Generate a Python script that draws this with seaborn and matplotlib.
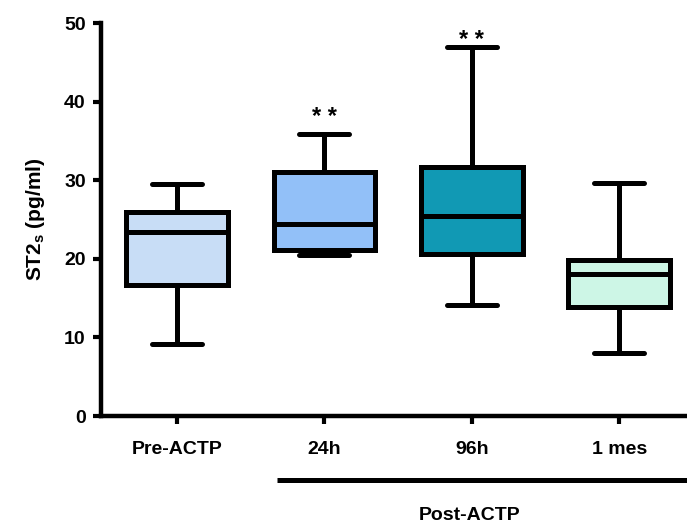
import matplotlib
matplotlib.use("Agg")
import pandas as pd
import matplotlib.pyplot as plt
import seaborn as sns

# values (five-number summaries per group)
groups = ["Pre-ACTP", "24h", "96h", "1 mes"]
lows = [9.2, 20.5, 14.1, 8.0]
q1s = [16.7, 21.1, 20.6, 13.9]
medians = [23.4, 24.4, 25.5, 18.1]
q3s = [26.0, 31.1, 31.7, 19.8]
highs = [29.5, 35.9, 46.9, 29.7]
colors = ["#C8DDF6", "#92C0F8", "#1199B4", "#CDF6E6"]
stars = ["", "* *", "* *", ""]
star_lift = [0, 12, 5, 0]


def build_frame():
	'''Five points per group give exactly these quartiles with whis=(0, 100).'''
	rows = []
	for g, a, b, c, d, e in zip(groups, lows, q1s, medians, q3s, highs):
		for v in (a, b, c, d, e):
			rows.append({"grupo": g, "ST2": v})
	return pd.DataFrame(rows)


def main():
	sns.set_style("ticks", {"axes.edgecolor": "black", "text.color": "black",
		"xtick.color": "black", "ytick.color": "black", "axes.labelcolor": "black"})
	plt.rcParams["font.family"] = ["Liberation Sans", "DejaVu Sans"]
	plt.rcParams["font.weight"] = "bold"
	plt.rcParams["mathtext.fontset"] = "custom"
	plt.rcParams["mathtext.rm"] = "Liberation Sans:bold"
	plt.rcParams["mathtext.it"] = "Liberation Sans:bold"
	plt.rcParams["mathtext.bf"] = "Liberation Sans:bold"
	plt.rcParams["mathtext.default"] = "rm"

	df = build_frame()
	fig = plt.figure(figsize=(6.87, 5.25), dpi=100)
	ax = fig.add_axes([0.147, 0.2076, 0.853, 0.7484])

	lw = 3.6
	sns.boxplot(data=df, x="grupo", y="ST2", hue="grupo", order=groups,
		palette=colors, saturation=1, whis=(0, 100), width=0.69,
		linecolor="black", linewidth=lw, legend=False, ax=ax,
		capwidths=0.34, showfliers=False)

	for i, s in enumerate(stars):
		if s:
			ax.annotate(s, (i, highs[i]), xytext=(0, star_lift[i]), textcoords="offset points",
				ha="center", va="center", fontsize=17, fontweight="bold")

	ax.set_xlim(-0.516, 3.46)
	ax.set_ylim(0, 50)
	ax.set_yticks([0, 10, 20, 30, 40, 50])
	ax.set_xlabel("")
	ax.set_ylabel("ST2$_{s}$ (pg/ml)", fontsize=15, fontweight="bold", labelpad=12)
	sns.despine(ax=ax)
	for sp in ("left", "bottom"):
		ax.spines[sp].set_linewidth(3.2)
	ax.tick_params(axis="both", width=3, length=6, labelsize=14)
	ax.tick_params(axis="x", pad=12)
	ax.tick_params(axis="y", pad=5)

	# bracket under the post-procedure groups
	fig.add_artist(plt.Line2D([277 / 687, 1.0], [45 / 525, 45 / 525],
		color="black", lw=3.6, solid_capstyle="butt"))
	fig.text(470 / 687, 9 / 525, "Post-ACTP", ha="center", va="center",
		fontsize=14, fontweight="bold")

	fig.savefig("out.png", dpi=100)


if __name__ == "__main__":
	main()
